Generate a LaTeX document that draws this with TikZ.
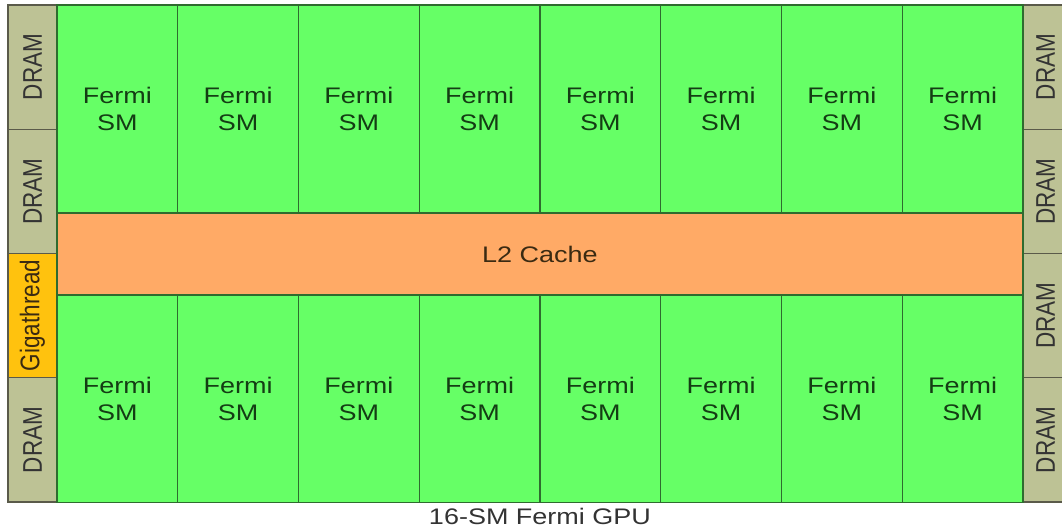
\documentclass[tikz,border=0pt]{standalone}
\usepackage{fontspec}
\setmainfont{Liberation Sans}
\usepackage{graphicx}
\definecolor{smgreen}{HTML}{66FF66}
\definecolor{smedge}{HTML}{2F6B2F}
\definecolor{smtext}{HTML}{143D14}
\definecolor{l2orange}{HTML}{FFAA66}
\definecolor{l2text}{HTML}{3A2A12}
\definecolor{dramkhaki}{HTML}{BDC295}
\definecolor{dramedge}{HTML}{5A5A4A}
\definecolor{gigayellow}{HTML}{FFC20E}
\definecolor{captext}{HTML}{333333}
\newcommand{\sx}[1]{\scalebox{1.2}[1]{#1}}
\newcommand{\vtxt}[1]{\scalebox{1.2}[1]{\rotatebox{90}{#1}}}
\tikzset{
  txt/.style={font=\fontsize{22.5}{27}\selectfont, align=center, inner sep=0pt, outer sep=0pt},
  smbox/.style={txt, draw=smedge, fill=smgreen, line width=1.2pt, text=smtext,
    minimum width=120.75pt, minimum height=208pt},
  l2box/.style={txt, draw=smedge, fill=l2orange, line width=1.2pt, text=l2text,
    minimum width=966pt, minimum height=82pt},
  dramboxL/.style={txt, draw=dramedge, fill=dramkhaki, line width=1.2pt, text=captext,
    minimum width=49pt, minimum height=124.25pt},
  dramboxR/.style={dramboxL, minimum width=45pt},
  gigabox/.style={dramboxL, fill=gigayellow, text=l2text},
  caption/.style={txt, text=captext}
}
\begin{document}
\begin{tikzpicture}[x=1pt,y=-1pt]
\useasboundingbox[fill=white] (0,0) rectangle (1062,527);
% left column
\node[dramboxL] (dl1) at (32.5,67.1) {\vtxt{DRAM}};
\node[dramboxL] (dl2) at (32.5,191.4) {\vtxt{DRAM}};
\node[gigabox]  (giga) at (32.5,315.6) {\vtxt{Gigathread}};
\node[dramboxL] (dl4) at (32.5,439.9) {\vtxt{DRAM}};
% right column
\node[dramboxR] (dr1) at (1045.5,67.1) {\vtxt{DRAM}};
\node[dramboxR] (dr2) at (1045.5,191.4) {\vtxt{DRAM}};
\node[dramboxR] (dr3) at (1045.5,315.6) {\vtxt{DRAM}};
\node[dramboxR] (dr4) at (1045.5,439.9) {\vtxt{DRAM}};
% SMs
\foreach \i in {0,...,7}{
  \node[smbox] (smt\i) at ({57+120.75*\i+60.375},109) {\sx{Fermi}\\\sx{SM}};
  \node[smbox] (smb\i) at ({57+120.75*\i+60.375},398.5) {\sx{Fermi}\\\sx{SM}};
}
% L2
\node[l2box] (l2) at (540,254) {\sx{L2 Cache}};
% caption
\node[caption] (cap) at (540,516) {\sx{16-SM Fermi GPU}};
\end{tikzpicture}
\end{document}
